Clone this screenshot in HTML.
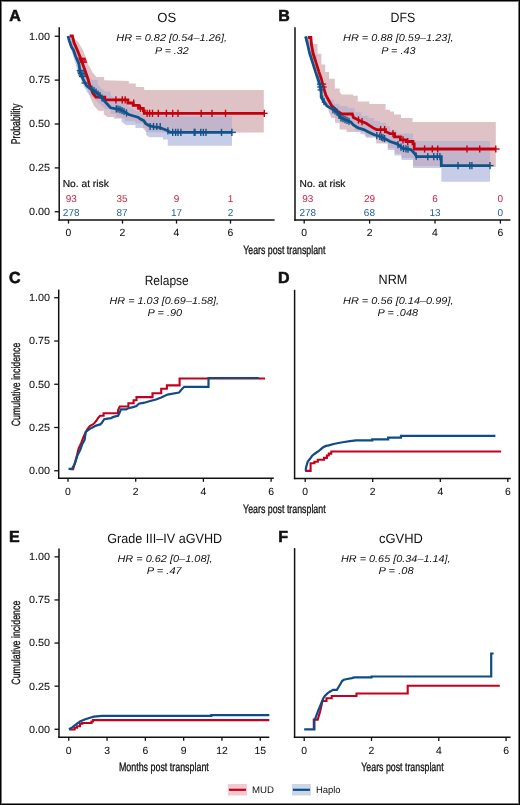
<!DOCTYPE html>
<html><head><meta charset="utf-8"><style>
html,body{margin:0;padding:0;background:#fff;}
.fig{position:relative;width:520px;height:805px;overflow:hidden;}
svg{position:absolute;left:0;top:0;will-change:transform;}
text{font-family:"Liberation Sans",sans-serif;text-rendering:geometricPrecision;}
.frame{position:absolute;left:0;top:0;width:520px;height:805px;box-sizing:border-box;border:1px solid #000;box-shadow:inset 0 0 0 1px rgba(0,0,0,0.52);pointer-events:none;}
</style></head><body><div class="fig">
<svg width="520" height="805" viewBox="0 0 520 805" fill="#111">
<rect width="520" height="805" fill="#fff"/>
<polygon points="70.00,36.00 74.20,38.60 78.00,41.70 82.60,49.40 85.70,57.00 88.40,64.80 92.60,72.50 96.50,77.00 104.20,77.00 104.20,80.20 128.80,81.00 128.80,83.50 135.80,83.50 135.80,86.90 144.20,86.90 144.20,89.90 263.80,89.90 263.80,132.60 167.70,132.70 146.20,131.90 143.00,128.00 143.00,123.50 135.40,123.50 135.40,121.20 124.60,121.20 124.60,118.50 113.80,118.50 113.80,117.00 107.70,117.00 103.80,114.60 103.80,110.80 98.50,110.80 93.80,105.40 90.00,97.00 88.00,90.00 85.00,82.00 81.00,72.00 77.00,62.00 74.00,54.00 71.00,46.00 69.50,40.00 69.00,36.00" fill="#dec2c5" />
<polygon points="68.00,36.00 72.00,40.00 76.00,48.00 80.00,55.00 84.00,65.00 88.00,76.00 92.30,80.00 97.70,80.00 97.70,83.80 100.80,87.70 105.40,91.50 110.80,91.50 110.80,95.40 114.60,97.70 120.00,97.70 120.00,100.00 125.00,104.00 130.00,107.00 135.00,110.00 140.00,112.50 144.20,114.60 145.00,116.30 232.00,116.30 232.00,145.80 167.70,145.80 167.70,139.60 163.00,139.60 163.00,137.30 149.20,137.30 146.20,135.00 146.20,128.00 135.40,128.00 135.40,125.00 126.20,125.00 121.50,121.90 121.50,117.50 116.20,117.50 116.20,114.00 110.80,114.00 110.80,109.20 105.40,109.20 102.30,106.20 98.50,103.00 95.40,100.00 91.50,96.20 87.70,93.00 84.60,87.70 81.00,80.00 78.00,72.00 75.00,62.00 72.00,52.00 69.50,44.00 67.50,36.00" fill="#c7cde7" />
<clipPath id="cpA"><polygon points="70,36 74.2,38.6 78,41.7 82.6,49.4 85.7,57 88.4,64.8 92.6,72.5 96.5,77 104.2,77 104.2,80.2 128.8,81 128.8,83.5 135.8,83.5 135.8,86.9 144.2,86.9 144.2,89.9 263.8,89.9 263.8,132.6 167.7,132.7 146.2,131.9 143,128 143,123.5 135.4,123.5 135.4,121.2 124.6,121.2 124.6,118.5 113.8,118.5 113.8,117 107.7,117 103.8,114.6 103.8,110.8 98.5,110.8 93.8,105.4 90,97 88,90 85,82 81,72 77,62 74,54 71,46 69.5,40 69,36"/></clipPath>
<polygon points="68.00,36.00 72.00,40.00 76.00,48.00 80.00,55.00 84.00,65.00 88.00,76.00 92.30,80.00 97.70,80.00 97.70,83.80 100.80,87.70 105.40,91.50 110.80,91.50 110.80,95.40 114.60,97.70 120.00,97.70 120.00,100.00 125.00,104.00 130.00,107.00 135.00,110.00 140.00,112.50 144.20,114.60 145.00,116.30 232.00,116.30 232.00,145.80 167.70,145.80 167.70,139.60 163.00,139.60 163.00,137.30 149.20,137.30 146.20,135.00 146.20,128.00 135.40,128.00 135.40,125.00 126.20,125.00 121.50,121.90 121.50,117.50 116.20,117.50 116.20,114.00 110.80,114.00 110.80,109.20 105.40,109.20 102.30,106.20 98.50,103.00 95.40,100.00 91.50,96.20 87.70,93.00 84.60,87.70 81.00,80.00 78.00,72.00 75.00,62.00 72.00,52.00 69.50,44.00 67.50,36.00" fill="#c2b4ca" clip-path="url(#cpA)"/>
<line x1="59.20" y1="27.30" x2="59.20" y2="220.75" stroke="#111" stroke-width="1.5"/>
<line x1="58.45" y1="220.00" x2="274.60" y2="220.00" stroke="#111" stroke-width="1.5"/>
<line x1="68.50" y1="220.00" x2="68.50" y2="223.60" stroke="#111" stroke-width="1.3"/>
<text x="68.50" y="236.30" font-size="10.4" text-anchor="middle" stroke="#111" stroke-width="0.06">0</text>
<line x1="122.50" y1="220.00" x2="122.50" y2="223.60" stroke="#111" stroke-width="1.3"/>
<text x="122.50" y="236.30" font-size="10.4" text-anchor="middle" stroke="#111" stroke-width="0.06">2</text>
<line x1="176.50" y1="220.00" x2="176.50" y2="223.60" stroke="#111" stroke-width="1.3"/>
<text x="176.50" y="236.30" font-size="10.4" text-anchor="middle" stroke="#111" stroke-width="0.06">4</text>
<line x1="230.50" y1="220.00" x2="230.50" y2="223.60" stroke="#111" stroke-width="1.3"/>
<text x="230.50" y="236.30" font-size="10.4" text-anchor="middle" stroke="#111" stroke-width="0.06">6</text>
<line x1="54.70" y1="36.25" x2="59.20" y2="36.25" stroke="#111" stroke-width="1.3"/>
<text x="50.00" y="39.60" font-size="10.4" text-anchor="end" textLength="21.10" lengthAdjust="spacingAndGlyphs" stroke="#111" stroke-width="0.06">1.00</text>
<line x1="54.70" y1="80.10" x2="59.20" y2="80.10" stroke="#111" stroke-width="1.3"/>
<text x="50.00" y="83.45" font-size="10.4" text-anchor="end" textLength="21.10" lengthAdjust="spacingAndGlyphs" stroke="#111" stroke-width="0.06">0.75</text>
<line x1="54.70" y1="124.00" x2="59.20" y2="124.00" stroke="#111" stroke-width="1.3"/>
<text x="50.00" y="127.35" font-size="10.4" text-anchor="end" textLength="21.10" lengthAdjust="spacingAndGlyphs" stroke="#111" stroke-width="0.06">0.50</text>
<line x1="54.70" y1="167.90" x2="59.20" y2="167.90" stroke="#111" stroke-width="1.3"/>
<text x="50.00" y="171.25" font-size="10.4" text-anchor="end" textLength="21.10" lengthAdjust="spacingAndGlyphs" stroke="#111" stroke-width="0.06">0.25</text>
<line x1="54.70" y1="211.75" x2="59.20" y2="211.75" stroke="#111" stroke-width="1.3"/>
<text x="50.00" y="215.10" font-size="10.4" text-anchor="end" textLength="21.10" lengthAdjust="spacingAndGlyphs" stroke="#111" stroke-width="0.06">0.00</text>
<polyline points="69.70,36.00 72.40,36.00 74.00,42.50 77.40,50.20 81.20,59.80 85.00,70.40 87.50,77.50 90.10,86.30 93.00,93.50 96.00,97.20 104.80,97.20 104.80,99.90 127.90,99.90 127.90,103.00 133.20,103.00 133.20,105.40 138.50,105.40 138.50,108.30 143.30,108.30 143.30,110.80 144.30,110.80 144.30,113.30 264.30,113.30" fill="none" stroke="#c6000a" stroke-width="2.8" stroke-linejoin="miter" />
<line x1="115.90" y1="96.30" x2="115.90" y2="103.50" stroke="#c6000a" stroke-width="1.4"/>
<line x1="122.30" y1="96.30" x2="122.30" y2="103.50" stroke="#c6000a" stroke-width="1.4"/>
<line x1="125.20" y1="96.30" x2="125.20" y2="103.50" stroke="#c6000a" stroke-width="1.4"/>
<line x1="133.70" y1="99.40" x2="133.70" y2="106.60" stroke="#c6000a" stroke-width="1.4"/>
<line x1="140.40" y1="104.70" x2="140.40" y2="111.90" stroke="#c6000a" stroke-width="1.4"/>
<line x1="147.10" y1="109.70" x2="147.10" y2="116.90" stroke="#c6000a" stroke-width="1.4"/>
<line x1="149.60" y1="109.70" x2="149.60" y2="116.90" stroke="#c6000a" stroke-width="1.4"/>
<line x1="152.50" y1="109.70" x2="152.50" y2="116.90" stroke="#c6000a" stroke-width="1.4"/>
<line x1="158.30" y1="109.70" x2="158.30" y2="116.90" stroke="#c6000a" stroke-width="1.4"/>
<line x1="166.40" y1="109.70" x2="166.40" y2="116.90" stroke="#c6000a" stroke-width="1.4"/>
<line x1="172.70" y1="109.70" x2="172.70" y2="116.90" stroke="#c6000a" stroke-width="1.4"/>
<line x1="178.00" y1="109.70" x2="178.00" y2="116.90" stroke="#c6000a" stroke-width="1.4"/>
<line x1="201.20" y1="109.70" x2="201.20" y2="116.90" stroke="#c6000a" stroke-width="1.4"/>
<line x1="212.00" y1="109.70" x2="212.00" y2="116.90" stroke="#c6000a" stroke-width="1.4"/>
<line x1="225.50" y1="109.70" x2="225.50" y2="116.90" stroke="#c6000a" stroke-width="1.4"/>
<line x1="264.30" y1="109.70" x2="264.30" y2="116.90" stroke="#c6000a" stroke-width="1.4"/>
<line x1="264.30" y1="113.30" x2="267.60" y2="113.30" stroke="#c6000a" stroke-width="1.4"/>
<line x1="78.40" y1="58.30" x2="85.60" y2="58.30" stroke="#c6000a" stroke-width="1.3"/>
<line x1="78.90" y1="59.70" x2="86.10" y2="59.70" stroke="#c6000a" stroke-width="1.3"/>
<line x1="79.40" y1="61.00" x2="86.60" y2="61.00" stroke="#c6000a" stroke-width="1.3"/>
<line x1="79.90" y1="62.20" x2="87.10" y2="62.20" stroke="#c6000a" stroke-width="1.3"/>
<polyline points="68.00,36.00 69.20,40.60 71.60,47.30 73.40,50.00 75.50,56.00 78.80,63.70 80.30,72.50 83.40,80.00 86.50,85.50 89.50,88.00 92.60,90.00 96.40,92.30 101.00,96.40 103.90,100.40 106.70,103.50 110.60,107.80 116.30,108.80 119.20,109.20 125.00,112.10 128.80,114.50 133.70,116.00 138.50,117.40 140.00,118.75 143.80,120.70 145.80,123.60 149.60,126.00 154.40,126.90 159.20,127.40 164.00,129.30 167.90,130.80 169.80,132.40 232.00,132.40" fill="none" stroke="#12528a" stroke-width="2.8" stroke-linejoin="miter" />
<line x1="76.70" y1="70.50" x2="83.90" y2="70.50" stroke="#12528a" stroke-width="1.3"/>
<line x1="77.20" y1="72.00" x2="84.40" y2="72.00" stroke="#12528a" stroke-width="1.3"/>
<line x1="77.80" y1="73.50" x2="85.00" y2="73.50" stroke="#12528a" stroke-width="1.3"/>
<line x1="78.40" y1="75.00" x2="85.60" y2="75.00" stroke="#12528a" stroke-width="1.3"/>
<line x1="79.00" y1="76.50" x2="86.20" y2="76.50" stroke="#12528a" stroke-width="1.3"/>
<line x1="81.40" y1="83.00" x2="88.60" y2="83.00" stroke="#12528a" stroke-width="1.3"/>
<line x1="92.00" y1="85.40" x2="92.00" y2="92.60" stroke="#12528a" stroke-width="1.4"/>
<line x1="94.00" y1="86.90" x2="94.00" y2="94.10" stroke="#12528a" stroke-width="1.4"/>
<line x1="96.00" y1="88.40" x2="96.00" y2="95.60" stroke="#12528a" stroke-width="1.4"/>
<line x1="98.00" y1="90.40" x2="98.00" y2="97.60" stroke="#12528a" stroke-width="1.4"/>
<line x1="100.00" y1="91.90" x2="100.00" y2="99.10" stroke="#12528a" stroke-width="1.4"/>
<line x1="102.00" y1="94.40" x2="102.00" y2="101.60" stroke="#12528a" stroke-width="1.4"/>
<line x1="116.30" y1="105.20" x2="116.30" y2="112.40" stroke="#12528a" stroke-width="1.4"/>
<line x1="118.00" y1="105.40" x2="118.00" y2="112.60" stroke="#12528a" stroke-width="1.4"/>
<line x1="120.00" y1="106.00" x2="120.00" y2="113.20" stroke="#12528a" stroke-width="1.4"/>
<line x1="122.00" y1="106.90" x2="122.00" y2="114.10" stroke="#12528a" stroke-width="1.4"/>
<line x1="124.00" y1="107.90" x2="124.00" y2="115.10" stroke="#12528a" stroke-width="1.4"/>
<line x1="126.50" y1="109.40" x2="126.50" y2="116.60" stroke="#12528a" stroke-width="1.4"/>
<line x1="150.10" y1="122.90" x2="150.10" y2="130.10" stroke="#12528a" stroke-width="1.4"/>
<line x1="153.50" y1="122.90" x2="153.50" y2="130.10" stroke="#12528a" stroke-width="1.4"/>
<line x1="156.80" y1="122.90" x2="156.80" y2="130.10" stroke="#12528a" stroke-width="1.4"/>
<line x1="160.20" y1="122.90" x2="160.20" y2="130.10" stroke="#12528a" stroke-width="1.4"/>
<line x1="167.90" y1="127.20" x2="167.90" y2="134.40" stroke="#12528a" stroke-width="1.4"/>
<line x1="172.70" y1="128.80" x2="172.70" y2="136.00" stroke="#12528a" stroke-width="1.4"/>
<line x1="175.60" y1="128.80" x2="175.60" y2="136.00" stroke="#12528a" stroke-width="1.4"/>
<line x1="178.00" y1="128.80" x2="178.00" y2="136.00" stroke="#12528a" stroke-width="1.4"/>
<line x1="180.90" y1="128.80" x2="180.90" y2="136.00" stroke="#12528a" stroke-width="1.4"/>
<line x1="194.20" y1="128.80" x2="194.20" y2="136.00" stroke="#12528a" stroke-width="1.4"/>
<line x1="195.00" y1="128.80" x2="195.00" y2="136.00" stroke="#12528a" stroke-width="1.4"/>
<line x1="200.80" y1="128.80" x2="200.80" y2="136.00" stroke="#12528a" stroke-width="1.4"/>
<line x1="203.40" y1="128.80" x2="203.40" y2="136.00" stroke="#12528a" stroke-width="1.4"/>
<line x1="206.00" y1="128.80" x2="206.00" y2="136.00" stroke="#12528a" stroke-width="1.4"/>
<line x1="221.50" y1="128.80" x2="221.50" y2="136.00" stroke="#12528a" stroke-width="1.4"/>
<line x1="231.90" y1="128.80" x2="231.90" y2="136.00" stroke="#12528a" stroke-width="1.4"/>
<line x1="231.90" y1="132.40" x2="235.80" y2="132.40" stroke="#12528a" stroke-width="1.4"/>
<text x="62.70" y="186.80" font-size="10.2" text-anchor="start" textLength="46.10" lengthAdjust="spacingAndGlyphs" stroke="#111" stroke-width="0.2">No. at risk</text>
<text x="71.20" y="201.50" font-size="10" text-anchor="middle" fill="#cd1f40">93</text>
<text x="122.10" y="201.50" font-size="10" text-anchor="middle" fill="#cd1f40">35</text>
<text x="176.50" y="201.50" font-size="10" text-anchor="middle" fill="#cd1f40">9</text>
<text x="230.50" y="201.50" font-size="10" text-anchor="middle" fill="#cd1f40">1</text>
<text x="71.20" y="216.20" font-size="10" text-anchor="middle" fill="#225f9c">278</text>
<text x="122.10" y="216.20" font-size="10" text-anchor="middle" fill="#225f9c">87</text>
<text x="176.50" y="216.20" font-size="10" text-anchor="middle" fill="#225f9c">17</text>
<text x="230.50" y="216.20" font-size="10" text-anchor="middle" fill="#225f9c">2</text>
<text x="157.30" y="21.50" font-size="13.4" text-anchor="start" textLength="18.90" lengthAdjust="spacingAndGlyphs">OS</text>
<text x="116.30" y="41.25" font-size="10" text-anchor="start" font-style="italic" textLength="110.70" lengthAdjust="spacingAndGlyphs">HR = 0.82 [0.54–1.26],</text>
<text x="155.00" y="53.50" font-size="10" text-anchor="start" font-style="italic" textLength="33.70" lengthAdjust="spacingAndGlyphs">P = .32</text>
<text x="9.30" y="20.50" font-size="16" text-anchor="start" font-weight="bold" stroke="#111" stroke-width="0.6">A</text>
<polygon points="308.00,37.00 311.00,38.00 313.00,44.00 317.50,44.00 317.50,53.80 321.40,53.80 321.40,64.40 325.20,64.40 325.20,72.10 329.00,72.10 329.00,78.80 334.80,78.80 334.80,88.50 339.70,88.50 339.70,92.30 341.60,94.40 353.10,94.40 353.10,95.80 357.70,95.80 357.70,101.60 369.30,101.60 369.30,103.90 385.50,103.90 385.50,109.70 390.00,109.70 390.00,111.50 394.00,111.50 394.00,114.40 401.00,114.40 401.00,117.90 412.50,117.90 412.50,121.90 495.80,121.90 495.80,167.00 441.30,167.00 441.30,166.00 413.00,166.00 413.00,158.00 401.50,158.00 401.50,153.40 394.60,153.40 394.60,148.00 387.80,148.00 387.80,143.50 376.20,143.50 376.20,136.50 364.70,136.50 364.70,132.00 355.40,132.00 346.50,131.90 346.50,129.60 339.60,129.60 339.60,122.70 335.00,122.70 335.00,118.00 331.50,118.00 328.50,111.00 328.50,104.00 325.00,104.00 322.50,97.00 320.50,88.00 318.00,78.00 315.00,68.00 312.00,56.00 309.00,45.00 306.50,37.00" fill="#dec2c5" />
<polygon points="305.60,36.30 309.00,36.30 309.00,42.00 313.00,42.00 313.00,55.00 317.00,55.00 317.00,70.00 320.50,70.00 320.50,88.00 323.00,95.00 326.90,95.00 326.90,99.60 333.80,99.60 333.80,103.70 339.60,103.70 339.60,106.00 347.70,106.00 347.70,107.70 354.60,107.70 354.60,112.30 361.50,112.30 361.50,115.80 368.40,115.80 368.40,118.00 374.20,118.00 374.20,121.00 380.00,121.00 380.00,122.70 386.00,122.70 386.00,126.00 390.00,126.00 390.00,130.60 397.00,130.60 397.00,133.40 413.00,133.40 413.00,141.00 490.00,141.00 490.00,181.70 441.30,181.70 441.30,168.00 413.00,168.00 413.00,162.90 413.00,160.00 401.50,160.00 401.50,155.40 394.60,155.40 394.60,150.00 387.80,150.00 387.80,140.00 380.00,140.00 380.00,137.70 366.10,137.70 366.10,134.20 360.40,134.20 360.40,130.80 354.60,130.80 354.60,125.60 348.80,125.60 348.80,121.50 339.60,121.50 339.60,118.00 335.00,118.00 335.00,114.00 331.50,114.00 331.50,106.50 325.80,106.50 325.80,98.00 321.00,98.00 318.00,88.00 315.00,75.00 315.00,60.00 311.00,60.00 311.00,45.00 307.50,45.00 304.50,36.30" fill="#c7cde7" />
<clipPath id="cpB"><polygon points="308,37 311,38 313,44 317.5,44 317.5,53.8 321.4,53.8 321.4,64.4 325.2,64.4 325.2,72.1 329,72.1 329,78.8 334.8,78.8 334.8,88.5 339.7,88.5 339.7,92.3 341.6,94.4 353.1,94.4 353.1,95.8 357.7,95.8 357.7,101.6 369.3,101.6 369.3,103.9 385.5,103.9 385.5,109.7 390,109.7 390,111.5 394,111.5 394,114.4 401,114.4 401,117.9 412.5,117.9 412.5,121.9 495.8,121.9 495.8,167 441.3,167 441.3,166 413,166 413,158 401.5,158 401.5,153.4 394.6,153.4 394.6,148 387.8,148 387.8,143.5 376.2,143.5 376.2,136.5 364.7,136.5 364.7,132 355.4,132 346.5,131.9 346.5,129.6 339.6,129.6 339.6,122.7 335,122.7 335,118 331.5,118 328.5,111 328.5,104 325,104 322.5,97 320.5,88 318,78 315,68 312,56 309,45 306.5,37"/></clipPath>
<polygon points="305.60,36.30 309.00,36.30 309.00,42.00 313.00,42.00 313.00,55.00 317.00,55.00 317.00,70.00 320.50,70.00 320.50,88.00 323.00,95.00 326.90,95.00 326.90,99.60 333.80,99.60 333.80,103.70 339.60,103.70 339.60,106.00 347.70,106.00 347.70,107.70 354.60,107.70 354.60,112.30 361.50,112.30 361.50,115.80 368.40,115.80 368.40,118.00 374.20,118.00 374.20,121.00 380.00,121.00 380.00,122.70 386.00,122.70 386.00,126.00 390.00,126.00 390.00,130.60 397.00,130.60 397.00,133.40 413.00,133.40 413.00,141.00 490.00,141.00 490.00,181.70 441.30,181.70 441.30,168.00 413.00,168.00 413.00,162.90 413.00,160.00 401.50,160.00 401.50,155.40 394.60,155.40 394.60,150.00 387.80,150.00 387.80,140.00 380.00,140.00 380.00,137.70 366.10,137.70 366.10,134.20 360.40,134.20 360.40,130.80 354.60,130.80 354.60,125.60 348.80,125.60 348.80,121.50 339.60,121.50 339.60,118.00 335.00,118.00 335.00,114.00 331.50,114.00 331.50,106.50 325.80,106.50 325.80,98.00 321.00,98.00 318.00,88.00 315.00,75.00 315.00,60.00 311.00,60.00 311.00,45.00 307.50,45.00 304.50,36.30" fill="#c2b4ca" clip-path="url(#cpB)"/>
<line x1="295.00" y1="27.30" x2="295.00" y2="220.75" stroke="#111" stroke-width="1.5"/>
<line x1="294.25" y1="220.00" x2="510.40" y2="220.00" stroke="#111" stroke-width="1.5"/>
<line x1="304.20" y1="220.00" x2="304.20" y2="223.60" stroke="#111" stroke-width="1.3"/>
<text x="304.20" y="236.30" font-size="10.4" text-anchor="middle" stroke="#111" stroke-width="0.06">0</text>
<line x1="369.60" y1="220.00" x2="369.60" y2="223.60" stroke="#111" stroke-width="1.3"/>
<text x="369.60" y="236.30" font-size="10.4" text-anchor="middle" stroke="#111" stroke-width="0.06">2</text>
<line x1="435.00" y1="220.00" x2="435.00" y2="223.60" stroke="#111" stroke-width="1.3"/>
<text x="435.00" y="236.30" font-size="10.4" text-anchor="middle" stroke="#111" stroke-width="0.06">4</text>
<line x1="500.40" y1="220.00" x2="500.40" y2="223.60" stroke="#111" stroke-width="1.3"/>
<text x="500.40" y="236.30" font-size="10.4" text-anchor="middle" stroke="#111" stroke-width="0.06">6</text>
<polyline points="308.00,37.50 310.90,37.50 311.50,45.00 313.20,53.80 316.60,64.40 319.00,72.10 321.40,78.80 323.80,88.50 325.80,95.00 331.50,105.40 337.30,111.10 341.90,114.00 352.30,114.00 353.40,117.50 356.90,119.20 360.40,121.00 366.10,123.30 369.60,125.60 373.10,127.90 376.50,129.60 385.50,129.60 385.50,131.50 390.00,133.70 394.60,133.70 394.60,136.90 400.40,136.90 400.40,139.80 406.10,139.80 406.10,141.50 413.00,141.50 413.00,143.80 414.20,143.80 414.20,149.00 495.80,149.00" fill="none" stroke="#c6000a" stroke-width="2.8" stroke-linejoin="miter" />
<line x1="318.90" y1="84.10" x2="326.10" y2="84.10" stroke="#c6000a" stroke-width="1.3"/>
<line x1="319.40" y1="87.00" x2="326.60" y2="87.00" stroke="#c6000a" stroke-width="1.3"/>
<line x1="358.50" y1="116.42" x2="358.50" y2="123.62" stroke="#c6000a" stroke-width="1.4"/>
<line x1="362.00" y1="118.05" x2="362.00" y2="125.25" stroke="#c6000a" stroke-width="1.4"/>
<line x1="380.60" y1="126.00" x2="380.60" y2="133.20" stroke="#c6000a" stroke-width="1.4"/>
<line x1="384.60" y1="126.00" x2="384.60" y2="133.20" stroke="#c6000a" stroke-width="1.4"/>
<line x1="393.00" y1="130.10" x2="393.00" y2="137.30" stroke="#c6000a" stroke-width="1.4"/>
<line x1="403.00" y1="136.20" x2="403.00" y2="143.40" stroke="#c6000a" stroke-width="1.4"/>
<line x1="407.70" y1="137.90" x2="407.70" y2="145.10" stroke="#c6000a" stroke-width="1.4"/>
<line x1="424.60" y1="145.40" x2="424.60" y2="152.60" stroke="#c6000a" stroke-width="1.4"/>
<line x1="432.30" y1="145.40" x2="432.30" y2="152.60" stroke="#c6000a" stroke-width="1.4"/>
<line x1="437.70" y1="145.40" x2="437.70" y2="152.60" stroke="#c6000a" stroke-width="1.4"/>
<line x1="467.00" y1="145.40" x2="467.00" y2="152.60" stroke="#c6000a" stroke-width="1.4"/>
<line x1="479.70" y1="145.40" x2="479.70" y2="152.60" stroke="#c6000a" stroke-width="1.4"/>
<line x1="495.80" y1="145.40" x2="495.80" y2="152.60" stroke="#c6000a" stroke-width="1.4"/>
<line x1="495.80" y1="149.00" x2="499.60" y2="149.00" stroke="#c6000a" stroke-width="1.4"/>
<polyline points="305.60,36.30 307.50,44.00 309.80,53.80 313.20,64.40 315.60,72.10 318.00,78.80 320.00,85.00 321.20,92.00 321.20,97.30 326.90,106.00 332.70,109.40 337.30,112.30 340.20,117.50 345.40,119.80 351.10,122.10 353.40,125.00 358.10,127.90 363.80,129.60 368.40,131.90 374.20,134.80 380.00,136.50 386.00,139.20 390.00,141.50 397.00,143.80 402.70,148.40 410.80,149.60 414.20,153.00 416.50,156.60 441.30,156.60 441.30,165.60 490.00,165.60" fill="none" stroke="#12528a" stroke-width="2.8" stroke-linejoin="miter" />
<line x1="316.90" y1="84.10" x2="324.10" y2="84.10" stroke="#12528a" stroke-width="1.3"/>
<line x1="317.20" y1="87.00" x2="324.40" y2="87.00" stroke="#12528a" stroke-width="1.3"/>
<line x1="317.60" y1="89.90" x2="324.80" y2="89.90" stroke="#12528a" stroke-width="1.3"/>
<line x1="322.50" y1="95.68" x2="322.50" y2="102.88" stroke="#12528a" stroke-width="1.4"/>
<line x1="324.00" y1="97.97" x2="324.00" y2="105.17" stroke="#12528a" stroke-width="1.4"/>
<line x1="333.00" y1="105.99" x2="333.00" y2="113.19" stroke="#12528a" stroke-width="1.4"/>
<line x1="335.00" y1="107.25" x2="335.00" y2="114.45" stroke="#12528a" stroke-width="1.4"/>
<line x1="337.00" y1="108.51" x2="337.00" y2="115.71" stroke="#12528a" stroke-width="1.4"/>
<line x1="339.00" y1="111.75" x2="339.00" y2="118.95" stroke="#12528a" stroke-width="1.4"/>
<line x1="341.00" y1="114.25" x2="341.00" y2="121.45" stroke="#12528a" stroke-width="1.4"/>
<line x1="343.00" y1="115.14" x2="343.00" y2="122.34" stroke="#12528a" stroke-width="1.4"/>
<line x1="345.00" y1="116.02" x2="345.00" y2="123.22" stroke="#12528a" stroke-width="1.4"/>
<line x1="347.00" y1="116.85" x2="347.00" y2="124.05" stroke="#12528a" stroke-width="1.4"/>
<line x1="349.00" y1="117.65" x2="349.00" y2="124.85" stroke="#12528a" stroke-width="1.4"/>
<line x1="376.80" y1="131.96" x2="376.80" y2="139.16" stroke="#12528a" stroke-width="1.4"/>
<line x1="379.80" y1="132.84" x2="379.80" y2="140.04" stroke="#12528a" stroke-width="1.4"/>
<line x1="381.50" y1="133.58" x2="381.50" y2="140.78" stroke="#12528a" stroke-width="1.4"/>
<line x1="383.00" y1="134.25" x2="383.00" y2="141.45" stroke="#12528a" stroke-width="1.4"/>
<line x1="384.60" y1="134.97" x2="384.60" y2="142.17" stroke="#12528a" stroke-width="1.4"/>
<line x1="398.00" y1="141.01" x2="398.00" y2="148.21" stroke="#12528a" stroke-width="1.4"/>
<line x1="401.00" y1="143.43" x2="401.00" y2="150.63" stroke="#12528a" stroke-width="1.4"/>
<line x1="403.50" y1="144.92" x2="403.50" y2="152.12" stroke="#12528a" stroke-width="1.4"/>
<line x1="406.00" y1="145.29" x2="406.00" y2="152.49" stroke="#12528a" stroke-width="1.4"/>
<line x1="408.00" y1="145.59" x2="408.00" y2="152.79" stroke="#12528a" stroke-width="1.4"/>
<line x1="416.20" y1="152.53" x2="416.20" y2="159.73" stroke="#12528a" stroke-width="1.4"/>
<line x1="427.80" y1="153.00" x2="427.80" y2="160.20" stroke="#12528a" stroke-width="1.4"/>
<line x1="433.80" y1="153.00" x2="433.80" y2="160.20" stroke="#12528a" stroke-width="1.4"/>
<line x1="437.30" y1="153.00" x2="437.30" y2="160.20" stroke="#12528a" stroke-width="1.4"/>
<line x1="439.90" y1="153.00" x2="439.90" y2="160.20" stroke="#12528a" stroke-width="1.4"/>
<line x1="458.00" y1="162.00" x2="458.00" y2="169.20" stroke="#12528a" stroke-width="1.4"/>
<line x1="469.80" y1="162.00" x2="469.80" y2="169.20" stroke="#12528a" stroke-width="1.4"/>
<line x1="471.90" y1="162.00" x2="471.90" y2="169.20" stroke="#12528a" stroke-width="1.4"/>
<line x1="490.00" y1="162.00" x2="490.00" y2="169.20" stroke="#12528a" stroke-width="1.4"/>
<line x1="490.00" y1="165.60" x2="493.50" y2="165.60" stroke="#12528a" stroke-width="1.4"/>
<text x="299.60" y="186.90" font-size="10.2" text-anchor="start" textLength="45.80" lengthAdjust="spacingAndGlyphs" stroke="#111" stroke-width="0.2">No. at risk</text>
<text x="307.70" y="201.60" font-size="10" text-anchor="middle" fill="#cd1f40">93</text>
<text x="369.50" y="201.60" font-size="10" text-anchor="middle" fill="#cd1f40">29</text>
<text x="435.00" y="201.60" font-size="10" text-anchor="middle" fill="#cd1f40">6</text>
<text x="500.40" y="201.60" font-size="10" text-anchor="middle" fill="#cd1f40">0</text>
<text x="307.80" y="216.20" font-size="10" text-anchor="middle" fill="#225f9c">278</text>
<text x="369.40" y="216.20" font-size="10" text-anchor="middle" fill="#225f9c">68</text>
<text x="435.00" y="216.20" font-size="10" text-anchor="middle" fill="#225f9c">13</text>
<text x="500.40" y="216.20" font-size="10" text-anchor="middle" fill="#225f9c">0</text>
<text x="390.60" y="21.60" font-size="13.4" text-anchor="start" textLength="24.80" lengthAdjust="spacingAndGlyphs">DFS</text>
<text x="343.00" y="41.15" font-size="10" text-anchor="start" font-style="italic" textLength="110.50" lengthAdjust="spacingAndGlyphs">HR = 0.88 [0.59–1.23],</text>
<text x="381.30" y="53.50" font-size="10" text-anchor="start" font-style="italic" textLength="34.10" lengthAdjust="spacingAndGlyphs">P = .43</text>
<text x="278.30" y="20.80" font-size="16" text-anchor="start" font-weight="bold" stroke="#111" stroke-width="0.6">B</text>
<text x="243.30" y="253.90" font-size="12" text-anchor="start" textLength="82.10" lengthAdjust="spacingAndGlyphs" stroke="#111" stroke-width="0.3">Years post transplant</text>
<line x1="58.70" y1="289.60" x2="58.70" y2="479.00" stroke="#111" stroke-width="1.5"/>
<line x1="57.95" y1="478.25" x2="273.80" y2="478.25" stroke="#111" stroke-width="1.5"/>
<line x1="68.00" y1="478.25" x2="68.00" y2="481.85" stroke="#111" stroke-width="1.3"/>
<text x="68.00" y="494.55" font-size="10.4" text-anchor="middle" stroke="#111" stroke-width="0.06">0</text>
<line x1="135.70" y1="478.25" x2="135.70" y2="481.85" stroke="#111" stroke-width="1.3"/>
<text x="135.70" y="494.55" font-size="10.4" text-anchor="middle" stroke="#111" stroke-width="0.06">2</text>
<line x1="203.40" y1="478.25" x2="203.40" y2="481.85" stroke="#111" stroke-width="1.3"/>
<text x="203.40" y="494.55" font-size="10.4" text-anchor="middle" stroke="#111" stroke-width="0.06">4</text>
<line x1="271.10" y1="478.25" x2="271.10" y2="481.85" stroke="#111" stroke-width="1.3"/>
<text x="271.10" y="494.55" font-size="10.4" text-anchor="middle" stroke="#111" stroke-width="0.06">6</text>
<line x1="54.20" y1="297.75" x2="58.70" y2="297.75" stroke="#111" stroke-width="1.3"/>
<text x="50.00" y="301.10" font-size="10.4" text-anchor="end" textLength="21.10" lengthAdjust="spacingAndGlyphs" stroke="#111" stroke-width="0.06">1.00</text>
<line x1="54.20" y1="341.00" x2="58.70" y2="341.00" stroke="#111" stroke-width="1.3"/>
<text x="50.00" y="344.35" font-size="10.4" text-anchor="end" textLength="21.10" lengthAdjust="spacingAndGlyphs" stroke="#111" stroke-width="0.06">0.75</text>
<line x1="54.20" y1="384.25" x2="58.70" y2="384.25" stroke="#111" stroke-width="1.3"/>
<text x="50.00" y="387.60" font-size="10.4" text-anchor="end" textLength="21.10" lengthAdjust="spacingAndGlyphs" stroke="#111" stroke-width="0.06">0.50</text>
<line x1="54.20" y1="427.50" x2="58.70" y2="427.50" stroke="#111" stroke-width="1.3"/>
<text x="50.00" y="430.85" font-size="10.4" text-anchor="end" textLength="21.10" lengthAdjust="spacingAndGlyphs" stroke="#111" stroke-width="0.06">0.25</text>
<line x1="54.20" y1="470.75" x2="58.70" y2="470.75" stroke="#111" stroke-width="1.3"/>
<text x="50.00" y="474.10" font-size="10.4" text-anchor="end" textLength="21.10" lengthAdjust="spacingAndGlyphs" stroke="#111" stroke-width="0.06">0.00</text>
<polyline points="70.50,469.20 73.10,469.20 76.60,456.90 78.60,448.50 81.20,442.90 83.50,437.00 85.80,431.90 87.80,428.50 89.80,426.10 93.80,423.80 96.10,421.00 98.50,417.50 100.20,415.80 103.60,415.80 103.60,413.20 118.10,413.20 118.10,410.00 119.80,406.50 128.40,406.50 128.40,403.30 133.60,403.30 133.60,400.20 136.50,400.20 136.50,397.10 152.50,397.10 152.50,393.20 161.20,393.20 161.20,388.80 166.90,388.80 166.90,385.40 179.60,385.40 179.60,378.50 265.00,378.50" fill="none" stroke="#c2001f" stroke-width="2.1" stroke-linejoin="miter" />
<polyline points="68.50,468.90 72.00,468.90 75.10,463.10 77.40,455.40 80.50,449.20 82.30,444.00 84.60,440.00 85.80,431.90 88.10,430.20 91.50,427.90 96.10,425.60 100.20,424.40 101.90,422.70 104.20,419.20 107.70,418.60 111.10,418.10 113.40,416.90 118.10,415.80 119.80,412.30 120.90,409.40 126.10,409.40 128.40,408.30 133.10,407.10 136.50,406.00 138.80,403.70 144.40,402.70 150.20,401.00 156.00,399.50 161.20,397.50 167.50,394.60 179.00,392.60 181.30,389.70 184.20,386.80 208.50,386.80 208.50,378.00 259.10,378.00" fill="none" stroke="#0e4c87" stroke-width="2.2" stroke-linejoin="miter" />
<text x="144.70" y="284.60" font-size="13.4" text-anchor="start" textLength="44.10" lengthAdjust="spacingAndGlyphs">Relapse</text>
<text x="109.50" y="303.85" font-size="10" text-anchor="start" font-style="italic" textLength="109.60" lengthAdjust="spacingAndGlyphs">HR = 1.03 [0.69–1.58],</text>
<text x="147.60" y="316.20" font-size="10" text-anchor="start" font-style="italic" textLength="34.60" lengthAdjust="spacingAndGlyphs">P = .90</text>
<text x="9.00" y="283.30" font-size="16" text-anchor="start" font-weight="bold" stroke="#111" stroke-width="0.6">C</text>
<text x="0.00" y="0.00" font-size="12" text-anchor="middle" textLength="83.60" lengthAdjust="spacingAndGlyphs" stroke="#111" stroke-width="0.3" transform="translate(20.2,384.5) rotate(-90)">Cumulative incidence</text>
<line x1="294.60" y1="289.80" x2="294.60" y2="479.25" stroke="#111" stroke-width="1.5"/>
<line x1="293.85" y1="478.50" x2="510.80" y2="478.50" stroke="#111" stroke-width="1.5"/>
<line x1="305.20" y1="478.50" x2="305.20" y2="482.10" stroke="#111" stroke-width="1.3"/>
<text x="305.20" y="494.80" font-size="10.4" text-anchor="middle" stroke="#111" stroke-width="0.06">0</text>
<line x1="372.70" y1="478.50" x2="372.70" y2="482.10" stroke="#111" stroke-width="1.3"/>
<text x="372.70" y="494.80" font-size="10.4" text-anchor="middle" stroke="#111" stroke-width="0.06">2</text>
<line x1="440.30" y1="478.50" x2="440.30" y2="482.10" stroke="#111" stroke-width="1.3"/>
<text x="440.30" y="494.80" font-size="10.4" text-anchor="middle" stroke="#111" stroke-width="0.06">4</text>
<line x1="507.80" y1="478.50" x2="507.80" y2="482.10" stroke="#111" stroke-width="1.3"/>
<text x="507.80" y="494.80" font-size="10.4" text-anchor="middle" stroke="#111" stroke-width="0.06">6</text>
<polyline points="305.20,470.90 310.60,470.90 310.60,463.20 314.40,463.20 314.40,461.70 317.80,461.70 317.80,459.80 324.00,459.80 324.00,457.90 326.90,457.90 326.90,455.50 328.80,455.50 328.80,453.60 331.30,453.60 331.30,451.50 501.10,451.50" fill="none" stroke="#c2001f" stroke-width="2.1" stroke-linejoin="miter" />
<polyline points="305.60,470.60 306.30,466.50 307.70,461.70 309.60,459.30 312.00,456.00 314.40,454.00 319.20,450.70 323.10,447.30 326.00,445.90 328.80,445.40 333.70,444.00 338.50,443.00 344.20,442.00 350.00,441.10 356.00,440.40 372.30,440.40 372.30,439.30 388.20,439.30 388.20,437.60 401.00,437.60 401.00,435.90 495.40,435.90" fill="none" stroke="#0e4c87" stroke-width="2.2" stroke-linejoin="miter" />
<text x="378.50" y="284.30" font-size="13.4" text-anchor="start" textLength="28.80" lengthAdjust="spacingAndGlyphs">NRM</text>
<text x="343.00" y="303.85" font-size="10" text-anchor="start" font-style="italic" textLength="110.50" lengthAdjust="spacingAndGlyphs">HR = 0.56 [0.14–0.99],</text>
<text x="377.60" y="316.20" font-size="10" text-anchor="start" font-style="italic" textLength="40.40" lengthAdjust="spacingAndGlyphs">P = .048</text>
<text x="277.90" y="283.10" font-size="16" text-anchor="start" font-weight="bold" stroke="#111" stroke-width="0.6">D</text>
<text x="243.10" y="512.80" font-size="12" text-anchor="start" textLength="82.50" lengthAdjust="spacingAndGlyphs" stroke="#111" stroke-width="0.3">Years post transplant</text>
<line x1="59.00" y1="548.50" x2="59.00" y2="737.95" stroke="#111" stroke-width="1.5"/>
<line x1="58.25" y1="737.20" x2="269.30" y2="737.20" stroke="#111" stroke-width="1.5"/>
<line x1="68.75" y1="737.20" x2="68.75" y2="740.80" stroke="#111" stroke-width="1.3"/>
<text x="68.75" y="753.50" font-size="10.4" text-anchor="middle" stroke="#111" stroke-width="0.06">0</text>
<line x1="107.05" y1="737.20" x2="107.05" y2="740.80" stroke="#111" stroke-width="1.3"/>
<text x="107.05" y="753.50" font-size="10.4" text-anchor="middle" stroke="#111" stroke-width="0.06">3</text>
<line x1="145.35" y1="737.20" x2="145.35" y2="740.80" stroke="#111" stroke-width="1.3"/>
<text x="145.35" y="753.50" font-size="10.4" text-anchor="middle" stroke="#111" stroke-width="0.06">6</text>
<line x1="183.65" y1="737.20" x2="183.65" y2="740.80" stroke="#111" stroke-width="1.3"/>
<text x="183.65" y="753.50" font-size="10.4" text-anchor="middle" stroke="#111" stroke-width="0.06">9</text>
<line x1="221.95" y1="737.20" x2="221.95" y2="740.80" stroke="#111" stroke-width="1.3"/>
<text x="221.95" y="753.50" font-size="10.4" text-anchor="middle" stroke="#111" stroke-width="0.06">12</text>
<line x1="260.25" y1="737.20" x2="260.25" y2="740.80" stroke="#111" stroke-width="1.3"/>
<text x="260.25" y="753.50" font-size="10.4" text-anchor="middle" stroke="#111" stroke-width="0.06">15</text>
<line x1="54.50" y1="556.85" x2="59.00" y2="556.85" stroke="#111" stroke-width="1.3"/>
<text x="50.00" y="560.20" font-size="10.4" text-anchor="end" textLength="21.10" lengthAdjust="spacingAndGlyphs" stroke="#111" stroke-width="0.06">1.00</text>
<line x1="54.50" y1="599.95" x2="59.00" y2="599.95" stroke="#111" stroke-width="1.3"/>
<text x="50.00" y="603.30" font-size="10.4" text-anchor="end" textLength="21.10" lengthAdjust="spacingAndGlyphs" stroke="#111" stroke-width="0.06">0.75</text>
<line x1="54.50" y1="643.05" x2="59.00" y2="643.05" stroke="#111" stroke-width="1.3"/>
<text x="50.00" y="646.40" font-size="10.4" text-anchor="end" textLength="21.10" lengthAdjust="spacingAndGlyphs" stroke="#111" stroke-width="0.06">0.50</text>
<line x1="54.50" y1="686.15" x2="59.00" y2="686.15" stroke="#111" stroke-width="1.3"/>
<text x="50.00" y="689.50" font-size="10.4" text-anchor="end" textLength="21.10" lengthAdjust="spacingAndGlyphs" stroke="#111" stroke-width="0.06">0.25</text>
<line x1="54.50" y1="729.25" x2="59.00" y2="729.25" stroke="#111" stroke-width="1.3"/>
<text x="50.00" y="732.60" font-size="10.4" text-anchor="end" textLength="21.10" lengthAdjust="spacingAndGlyphs" stroke="#111" stroke-width="0.06">0.00</text>
<polyline points="69.20,729.50 74.60,729.50 74.60,727.70 77.00,727.70 77.00,726.30 80.00,726.30 80.00,723.80 82.30,723.80 82.30,723.00 91.50,723.00 91.50,721.50 93.00,721.50 93.00,720.10 269.30,720.10" fill="none" stroke="#c2001f" stroke-width="2.1" stroke-linejoin="miter" />
<polyline points="68.90,729.20 72.30,727.40 75.40,724.90 80.00,721.50 84.60,719.50 89.20,718.00 93.80,716.60 102.30,715.80 211.30,715.80 211.30,715.10 269.30,715.10" fill="none" stroke="#0e4c87" stroke-width="2.2" stroke-linejoin="miter" />
<text x="107.30" y="542.90" font-size="13.4" text-anchor="start" textLength="114.80" lengthAdjust="spacingAndGlyphs">Grade III–IV aGVHD</text>
<text x="117.40" y="561.55" font-size="10" text-anchor="start" font-style="italic" textLength="95.20" lengthAdjust="spacingAndGlyphs">HR = 0.62 [0–1.08],</text>
<text x="146.80" y="573.90" font-size="10" text-anchor="start" font-style="italic" textLength="34.90" lengthAdjust="spacingAndGlyphs">P = .47</text>
<text x="9.00" y="541.90" font-size="16" text-anchor="start" font-weight="bold" stroke="#111" stroke-width="0.6">E</text>
<text x="0.00" y="0.00" font-size="12" text-anchor="middle" textLength="84.10" lengthAdjust="spacingAndGlyphs" stroke="#111" stroke-width="0.3" transform="translate(20.2,642.7) rotate(-90)">Cumulative incidence</text>
<text x="118.90" y="770.70" font-size="12" text-anchor="start" textLength="89.90" lengthAdjust="spacingAndGlyphs" stroke="#111" stroke-width="0.3">Months post transplant</text>
<line x1="294.60" y1="548.10" x2="294.60" y2="738.05" stroke="#111" stroke-width="1.5"/>
<line x1="293.85" y1="737.30" x2="510.60" y2="737.30" stroke="#111" stroke-width="1.5"/>
<line x1="304.20" y1="737.30" x2="304.20" y2="740.90" stroke="#111" stroke-width="1.3"/>
<text x="304.20" y="753.60" font-size="10.4" text-anchor="middle" stroke="#111" stroke-width="0.06">0</text>
<line x1="371.50" y1="737.30" x2="371.50" y2="740.90" stroke="#111" stroke-width="1.3"/>
<text x="371.50" y="753.60" font-size="10.4" text-anchor="middle" stroke="#111" stroke-width="0.06">2</text>
<line x1="438.80" y1="737.30" x2="438.80" y2="740.90" stroke="#111" stroke-width="1.3"/>
<text x="438.80" y="753.60" font-size="10.4" text-anchor="middle" stroke="#111" stroke-width="0.06">4</text>
<line x1="506.10" y1="737.30" x2="506.10" y2="740.90" stroke="#111" stroke-width="1.3"/>
<text x="506.10" y="753.60" font-size="10.4" text-anchor="middle" stroke="#111" stroke-width="0.06">6</text>
<polyline points="313.80,728.50 313.80,719.60 317.70,719.60 320.00,712.00 322.50,701.00 326.50,701.00 326.50,698.30 331.70,698.30 331.70,696.00 356.50,696.00 356.50,693.50 407.70,693.50 407.70,685.80 499.80,685.80" fill="none" stroke="#c2001f" stroke-width="2.1" stroke-linejoin="miter" />
<polyline points="304.20,729.30 314.40,729.30 314.40,720.70 318.50,710.00 323.10,698.80 324.80,696.00 327.70,693.10 330.60,691.30 332.90,689.80 336.90,689.80 339.80,685.00 342.10,681.00 343.80,679.80 347.30,679.00 351.90,678.10 354.20,677.40 371.50,677.40 371.50,676.50 491.20,676.50 491.20,653.50 493.60,653.50" fill="none" stroke="#0e4c87" stroke-width="2.2" stroke-linejoin="miter" />
<text x="379.00" y="542.90" font-size="13.4" text-anchor="start" textLength="43.90" lengthAdjust="spacingAndGlyphs">cGVHD</text>
<text x="341.00" y="561.55" font-size="10" text-anchor="start" font-style="italic" textLength="109.60" lengthAdjust="spacingAndGlyphs">HR = 0.65 [0.34–1.14],</text>
<text x="378.50" y="573.90" font-size="10" text-anchor="start" font-style="italic" textLength="35.10" lengthAdjust="spacingAndGlyphs">P = .08</text>
<text x="278.20" y="541.50" font-size="16" text-anchor="start" font-weight="bold" stroke="#111" stroke-width="0.6">F</text>
<text x="361.30" y="770.70" font-size="12" text-anchor="start" textLength="82.30" lengthAdjust="spacingAndGlyphs" stroke="#111" stroke-width="0.3">Years post transplant</text>
<rect x="227.8" y="784" width="19.3" height="11.5" fill="#f1c9d1"/>
<line x1="229.00" y1="789.80" x2="246.00" y2="789.80" stroke="#c2001f" stroke-width="2.2"/>
<text x="252.00" y="793.00" font-size="9.6" text-anchor="start" textLength="22.00" lengthAdjust="spacingAndGlyphs">MUD</text>
<rect x="291.9" y="784" width="19" height="11.5" fill="#c9d7e7"/>
<line x1="292.90" y1="789.80" x2="310.00" y2="789.80" stroke="#0e4c87" stroke-width="2.2"/>
<text x="315.90" y="793.00" font-size="9.6" text-anchor="start" textLength="24.70" lengthAdjust="spacingAndGlyphs">Haplo</text>
<text x="0.00" y="0.00" font-size="12.8" text-anchor="middle" textLength="40.60" lengthAdjust="spacingAndGlyphs" stroke="#111" stroke-width="0.3" transform="translate(19.9,124) rotate(-90)">Probability</text>
</svg><div class="frame"></div></div></body></html>
